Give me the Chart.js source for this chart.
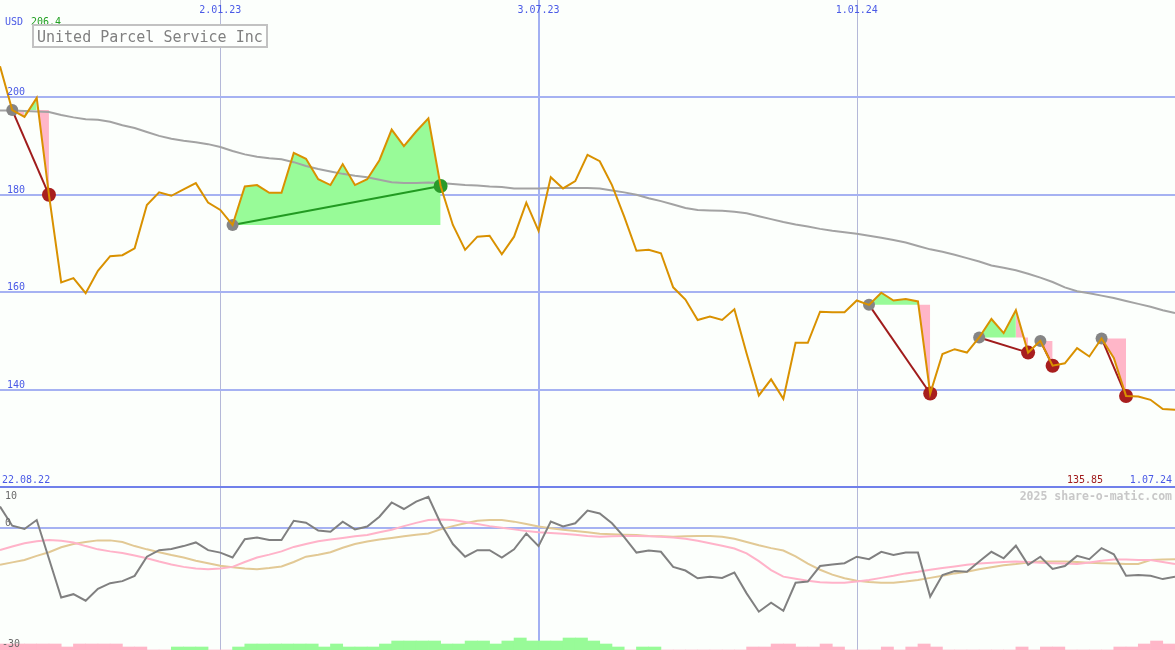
<!DOCTYPE html>
<html>
<head>
<meta charset="utf-8">
<script src="https://cdn.jsdelivr.net/npm/chart.js@4/dist/chart.umd.min.js"></script>
<style>
  html, body { margin: 0; padding: 0; background: #fcfffc; }
  #wrap { width: 1175px; height: 650px; position: relative; overflow: hidden; }
  canvas { display: block; }
</style>
</head>
<body>
<div id="wrap"><canvas id="chart" width="1175" height="650"></canvas></div>
<script>
// weekly closes, 29.08.22 .. 1.07.24
const title = 'United Parcel Service Inc';
const currency = 'USD';
const price = [
  206.4, 197.4, 196.0, 199.9, 180.0, 162.0, 162.9, 159.8, 164.4, 167.4,
  167.6, 169.0, 177.9, 180.5, 179.8, 181.1, 182.4, 178.4, 176.9, 173.8,
  181.7, 182.0, 180.4, 180.4, 188.6, 187.4, 183.2, 182.0, 186.3, 182.0,
  183.2, 187.1, 193.4, 190.0, 193.0, 195.7, 181.8, 173.8, 168.7, 171.4,
  171.6, 167.8, 171.4, 178.4, 172.6, 183.6, 181.3, 182.8, 188.2, 186.9,
  182.0, 175.5, 168.5, 168.7, 168.0, 161.0, 158.5, 154.3, 155.0, 154.3,
  156.5, 147.4, 138.8, 142.1, 138.1, 149.6, 149.6, 156.0, 155.9, 155.9,
  158.3, 157.4, 159.9, 158.3, 158.6, 158.1, 139.2, 147.3, 148.3, 147.6,
  150.7, 154.5, 151.6, 156.3, 147.6, 150.0, 144.9, 145.4, 148.5, 146.8,
  150.5, 146.5, 138.7, 138.6, 137.9, 136.0, 135.85
];
// long moving average
const avg = [
  197.3, 197.3, 197.2, 197.1, 197.0, 196.4, 195.9, 195.5, 195.4, 195.0,
  194.3, 193.7, 192.9, 192.1, 191.5, 191.1, 190.8, 190.4, 189.8, 189.0,
  188.3, 187.8, 187.5, 187.3, 186.7, 185.9, 185.3, 184.8, 184.3, 183.9,
  183.6, 183.1, 182.6, 182.4, 182.4, 182.5, 182.4, 182.2, 182.0, 181.9,
  181.7, 181.6, 181.3, 181.3, 181.3, 181.4, 181.4, 181.4, 181.4, 181.3,
  180.9, 180.5, 180.0, 179.3, 178.7, 178.0, 177.3, 176.9, 176.8, 176.7,
  176.5, 176.2, 175.6, 175.0, 174.4, 173.9, 173.5, 173.0, 172.6, 172.3,
  172.0, 171.6, 171.2, 170.7, 170.2, 169.5, 168.8, 168.3, 167.7, 167.0,
  166.3, 165.5, 165.0, 164.5, 163.8, 163.0, 162.1, 161.0, 160.2, 159.8,
  159.3, 158.8, 158.2, 157.6, 157.0, 156.3, 155.7
];
// lower panel: oscillator and its two signal lines
const osc = [
  5.2, 0.5, -0.3, 1.9, -7.6, -17.1, -16.3, -17.9, -15.0, -13.6,
  -13.1, -11.8, -7.1, -5.5, -5.2, -4.5, -3.6, -5.5, -6.1, -7.3,
  -2.8, -2.4, -3.0, -3.0, 1.7, 1.25, -0.7, -1.0, 1.5, -0.4,
  0.3, 2.7, 6.2, 4.6, 6.4, 7.6, 1.1, -4.0, -7.1, -5.5,
  -5.5, -7.3, -5.3, -1.4, -4.5, 1.5, 0.3, 1.1, 4.2, 3.5,
  1.1, -2.3, -6.1, -5.6, -5.9, -9.6, -10.5, -12.4, -12.0, -12.3,
  -11.0, -16.1, -20.6, -18.4, -20.4, -13.5, -13.2, -9.4, -9.0, -8.7,
  -7.1, -7.7, -5.9, -6.7, -6.1, -6.1, -16.9, -11.6, -10.6, -10.8,
  -8.3, -5.9, -7.5, -4.4, -9.1, -7.1, -10.1, -9.4, -6.9, -7.7,
  -5.0, -6.5, -11.8, -11.6, -11.8, -12.6, -12.0
];
const oscFast = [
  -5.5, -4.6, -3.8, -3.3, -3.0, -3.2, -3.6, -4.5, -5.3, -5.8,
  -6.2, -6.8, -7.5, -8.3, -9.0, -9.6, -10.0, -10.2, -10.0, -9.6,
  -8.4, -7.3, -6.6, -5.8, -4.7, -4.0, -3.3, -2.9, -2.5, -2.1,
  -1.8, -1.1, -0.5, 0.4, 1.2, 1.9, 2.0, 1.9, 1.4, 0.9,
  0.4, 0.0, -0.4, -0.8, -1.1, -1.3, -1.5, -1.7, -2.0, -2.2,
  -2.1, -2.0, -2.0, -2.1, -2.2, -2.4, -2.7, -3.2, -3.8, -4.4,
  -5.1, -6.3, -8.2, -10.4, -12.0, -12.5, -13.0, -13.4, -13.5, -13.5,
  -13.2, -12.8, -12.3, -11.8, -11.2, -10.8, -10.3, -9.9, -9.5, -9.1,
  -8.8, -8.6, -8.4, -8.3, -8.4, -8.6, -8.7, -8.8, -8.9, -8.5,
  -8.1, -7.8, -7.8, -7.9, -7.9, -8.4, -8.9
];
const oscSlow = [
  -9.1, -8.5, -7.9, -6.9, -6.0, -4.8, -4.0, -3.5, -3.1, -3.1,
  -3.5, -4.5, -5.3, -6.0, -6.7, -7.3, -8.1, -8.7, -9.3, -9.7,
  -10.0, -10.2, -9.9, -9.5, -8.4, -7.1, -6.6, -6.0, -4.9, -4.0,
  -3.4, -2.9, -2.5, -2.1, -1.7, -1.4, -0.4, 0.4, 1.1, 1.7,
  1.9, 1.9, 1.5, 0.9, 0.3, -0.1, -0.5, -0.8, -1.1, -1.5,
  -1.6, -1.7, -1.8, -2.0, -2.1, -2.2, -2.1, -2.0, -2.0, -2.2,
  -2.7, -3.5, -4.3, -5.0, -5.6, -7.0, -8.8, -10.3, -11.5, -12.4,
  -13.0, -13.3, -13.5, -13.5, -13.2, -12.8, -12.3, -11.8, -11.2, -10.8,
  -10.2, -9.7, -9.2, -8.9, -8.5, -8.3, -8.3, -8.3, -8.4, -8.6,
  -8.7, -8.8, -8.9, -8.9, -7.9, -7.8, -7.75
];
// strength bars along the bottom: + green, - pink
const hist = [
  -2, -2, -2, -2, -2, -1, -2, -2, -2, -2,
  -1, -1, 0, 0, 1, 1, 1, 0, 0, 1,
  2, 2, 2, 2, 2, 2, 1, 2, 1, 1,
  1, 2, 3, 3, 3, 3, 2, 2, 3, 3,
  2, 3, 4, 3, 3, 3, 4, 4, 3, 2,
  1, 0, 1, 1, 0, 0, 0, 0, 0, 0,
  0, -1, -1, -2, -2, -1, -1, -2, -1, 0,
  0, 0, -1, 0, -1, -2, -1, 0, 0, 0,
  0, 0, 0, -1, 0, -1, -1, 0, 0, 0,
  0, -1, -1, -2, -3, -2, 0
];
const tradeBuy = [1, 19, 71, 80, 85, 90];
const tradeSell = [4, 36, 76, 84, 86, 92];
const priceTicks = [200, 180, 160, 140];
const oscTicks = [10, 0, -30];
const dateIdx = [18, 44, 70];
const dateLabels = ['2.01.23', '3.07.23', '1.01.24'];
const startLabel = '22.08.22';
const endLabel = '1.07.24';

const W = 1175, H = 650, SPLIT = 487;
const P_TOP = 220, P_BOT = 120;   // upper panel price range
const O_TOP = 10, O_BOT = -30;    // lower panel range
const GREEN = '#98fb98', PINK = '#ffb6c8';
const MONO = '"DejaVu Sans Mono", monospace';

const pts = arr => arr.map((v, i) => ({ x: i, y: v }));

const datasets = [];

// price line on top
datasets.push({
  data: pts(price), yAxisID: 'y', borderColor: '#d99100', borderWidth: 2,
  pointRadius: 0, fill: false, order: 1
});

// buy / sell markers
datasets.push({
  data: tradeBuy.map(i => ({ x: i, y: price[i] })), yAxisID: 'y', showLine: false,
  pointRadius: 6, pointBackgroundColor: '#858585', pointBorderWidth: 0, order: 2
});
datasets.push({
  data: tradeSell.map(i => ({ x: i, y: price[i] })), yAxisID: 'y', showLine: false,
  pointRadius: 7, pointBorderWidth: 0, order: 2,
  pointBackgroundColor: tradeSell.map((s, k) => price[s] > price[tradeBuy[k]] ? '#2a9a2a' : '#a81e1e')
});

// trade lines and shaded segments (runs of same colour merged)
tradeBuy.forEach((b, k) => {
  const s = tradeSell[k];
  const lvl = price[b];
  datasets.push({
    data: [{ x: b, y: price[b] }, { x: s, y: price[s] }], yAxisID: 'y',
    borderColor: price[s] > lvl ? '#229a22' : '#a01c1c', borderWidth: 2,
    pointRadius: 0, fill: false, order: 3
  });
  let runStart = b;
  for (let i = b; i < s; i++) {
    const col = price[i + 1] >= lvl ? GREEN : PINK;
    const nextCol = i + 1 < s ? (price[i + 2] >= lvl ? GREEN : PINK) : null;
    if (nextCol !== col) {
      const seg = [];
      for (let j = runStart; j <= i + 1; j++) seg.push({ x: j, y: price[j] });
      datasets.push({
        data: seg, yAxisID: 'y', borderWidth: 0, pointRadius: 0,
        backgroundColor: col, fill: { value: lvl }, order: 6
      });
      runStart = i + 1;
    }
  }
});

// moving average
datasets.push({
  data: pts(avg), yAxisID: 'y', borderColor: '#a3a3a3', borderWidth: 2,
  pointRadius: 0, fill: false, order: 4
});

// lower panel
datasets.push({
  data: pts(osc), yAxisID: 'yo', borderColor: '#808080', borderWidth: 2,
  pointRadius: 0, fill: false, order: 1
});
datasets.push({
  data: pts(oscFast), yAxisID: 'yo', borderColor: '#ffb3c9', borderWidth: 2,
  pointRadius: 0, fill: false, order: 2
});
datasets.push({
  data: pts(oscSlow), yAxisID: 'yo', borderColor: '#e2c995', borderWidth: 2,
  pointRadius: 0, fill: false, order: 3
});
datasets.push({
  type: 'bar', yAxisID: 'yh',
  data: hist.map((v, i) => ({ x: i + 0.5, y: Math.abs(v) })),
  backgroundColor: hist.map(v => v > 0 ? GREEN : PINK),
  borderWidth: 0, barPercentage: 1, categoryPercentage: 1, order: 5
});

const deco = {
  id: 'deco',
  beforeDatasetsDraw(chart) {
    const { ctx, scales: { x, y, yo } } = chart;
    ctx.save();
    // vertical date lines
    dateIdx.forEach((d, k) => {
      const px = Math.round(x.getPixelForValue(d));
      if (dateLabels[k].indexOf('.07.') > 0) {
        ctx.fillStyle = '#a2b0f2';
        ctx.fillRect(px - 1, 0, 2, H);
      } else {
        ctx.fillStyle = '#b4b8d8';
        ctx.fillRect(px, 0, 1, H);
      }
    });
    // horizontal price grid
    ctx.fillStyle = '#a6b2f2';
    priceTicks.forEach(v => {
      const py = Math.round(y.getPixelForValue(v));
      ctx.fillRect(0, py - 1, W, 2);
    });
    // lower panel zero line
    const zy = Math.round(yo.getPixelForValue(0));
    ctx.fillRect(0, zy - 1, W, 2);
    // panel separator
    ctx.fillStyle = '#7080ea';
    ctx.fillRect(0, Math.round(yo.getPixelForValue(O_TOP)) - 1, W, 2);
    ctx.restore();
  },
  afterDatasetsDraw(chart) {
    const { ctx, scales: { x, y, yo } } = chart;
    ctx.save();
    ctx.font = '10px ' + MONO;
    ctx.textBaseline = 'alphabetic';

    // price tick labels
    ctx.fillStyle = '#4a5ae6';
    ctx.textAlign = 'left';
    priceTicks.forEach(v => {
      ctx.fillText(String(v), 7, Math.round(y.getPixelForValue(v)) - 2);
    });
    // currency and first price
    ctx.fillText(currency, 5, 25);
    ctx.fillStyle = '#22a022';
    ctx.fillText(price[0].toFixed(1), 31, 25);

    // date labels at top
    ctx.fillStyle = '#4a5ae6';
    ctx.textAlign = 'center';
    dateIdx.forEach((d, k) => {
      ctx.fillText(dateLabels[k], x.getPixelForValue(d), 13);
    });

    // range labels above separator
    const sepY = Math.round(yo.getPixelForValue(O_TOP));
    ctx.textAlign = 'left';
    ctx.fillText(startLabel, 2, sepY - 4);
    ctx.textAlign = 'right';
    ctx.fillText(endLabel, 1172, sepY - 4);
    ctx.fillStyle = '#a01c1c';
    ctx.fillText(price[price.length - 1].toFixed(2), 1103, sepY - 4);

    // watermark
    ctx.font = 'bold 11.5px ' + MONO;
    ctx.fillStyle = '#c8c8c8';
    ctx.fillText('2025 share-o-matic.com', 1172, sepY + 13);

    // oscillator labels
    ctx.font = '10px ' + MONO;
    ctx.fillStyle = '#6a6a6a';
    ctx.textAlign = 'left';
    oscTicks.forEach(v => {
      let py = yo.getPixelForValue(v);
      if (v === O_TOP) py += 12;
      else if (v === O_BOT) py -= 3;
      else py -= 2;
      ctx.fillText(String(v), v < 0 ? 2 : 5, Math.round(py));
    });

    // title box
    ctx.fillStyle = '#fdfffd';
    ctx.fillRect(33, 25, 234, 22);
    ctx.strokeStyle = '#c2c2c2';
    ctx.lineWidth = 2;
    ctx.strokeRect(33, 25, 234, 22);
    ctx.font = '15px ' + MONO;
    ctx.fillStyle = '#808080';
    ctx.textAlign = 'left';
    ctx.fillText(title, 37, 42);
    ctx.restore();
  }
};

new Chart(document.getElementById('chart'), {
  type: 'line',
  data: { datasets },
  options: {
    responsive: false,
    animation: false,
    devicePixelRatio: 1,
    layout: { padding: 0, autoPadding: false },
    plugins: { legend: { display: false }, tooltip: { enabled: false } },
    elements: { line: { tension: 0 } },
    scales: {
      x: { type: 'linear', min: 0, max: price.length - 1, display: false, offset: false },
      y: {
        type: 'linear', display: false, max: P_TOP,
        min: P_TOP - (P_TOP - P_BOT) * H / SPLIT
      },
      yo: {
        type: 'linear', display: false, min: O_BOT,
        max: O_TOP + (O_TOP - O_BOT) * SPLIT / (H - SPLIT)
      },
      yh: { type: 'linear', display: false, min: 0, max: H / 3 }
    }
  },
  plugins: [deco]
});
</script>
</body>
</html>
